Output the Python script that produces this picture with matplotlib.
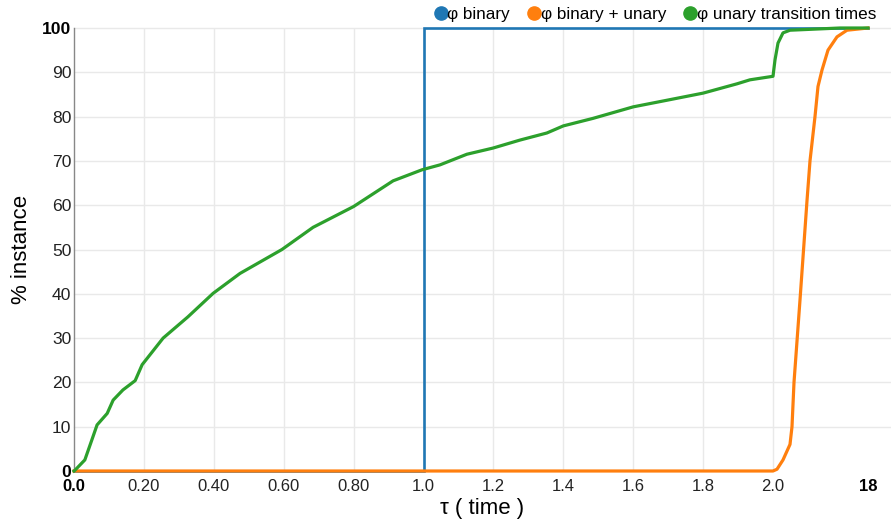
import numpy as np
import matplotlib
matplotlib.use("Agg")
import matplotlib.pyplot as plt
from matplotlib.lines import Line2D

plt.rcParams['font.family'] = ['Liberation Sans', 'DejaVu Sans']

# ---- data ----
series_names = ["φ binary", "φ binary + unary", "φ unary transition times"]
colors = ["#1f77b4", "#ff7f0e", "#2ca02c"]

binary_x = [0.0, 1.0, 1.0, 18.0]
binary_y = [0, 0, 100, 100]

bin_unary_x = [0.0, 2.0, 2.673, 3.684, 4.863, 5.200, 5.537, 6.547, 7.726, 8.231,
               9.073, 9.579, 10.252, 11.263, 12.779, 14.463, 18.0]
bin_unary_y = [0, 0, 0.4, 2.5, 6, 10, 20, 38.6, 61, 70,
               80, 86.8, 90.5, 95, 98, 99.5, 100]

unary_x = [0.0, 0.003, 0.031, 0.051, 0.066, 0.095, 0.112, 0.140, 0.175, 0.195,
           0.255, 0.326, 0.398, 0.475, 0.595, 0.684, 0.80, 0.913, 0.996,
           1.047, 1.124, 1.199, 1.276, 1.353, 1.40, 1.485, 1.60, 1.697, 1.80,
           1.897, 1.934, 2.0, 2.337, 2.842, 3.684, 4.863, 13.284, 18.0]
unary_y = [0, 0.2, 2.5, 7, 10.4, 13, 16, 18.3, 20.4, 24,
           30, 34.8, 40.1, 44.6, 50, 55, 59.7, 65.5, 68,
           69.1, 71.5, 72.9, 74.7, 76.3, 77.9, 79.6, 82.2, 83.7, 85.3,
           87.4, 88.3, 89.1, 92.8, 96.6, 98.9, 99.5, 100, 100]

x_ticks = [0.0, 0.2, 0.4, 0.6, 0.8, 1.0, 1.2, 1.4, 1.6, 1.8, 2.0, 18.0]
x_tick_labels = ["0.0", "0.20", "0.40", "0.60", "0.80", "1.0", "1.2", "1.4", "1.6", "1.8", "2.0", "18"]
y_ticks = [0, 10, 20, 30, 40, 50, 60, 70, 80, 90, 100]
y_tick_labels = [str(v) for v in y_ticks]

# ---- piecewise-linear x scale: [0,2] linear, [2,18] compressed ----
BREAK = 2.0
C = 0.2718 / 16.0

def fwd(x):
    x = np.asarray(x, dtype=float)
    return np.where(x <= BREAK, x, BREAK + (x - BREAK) * C)

def inv(u):
    u = np.asarray(u, dtype=float)
    return np.where(u <= BREAK, u, BREAK + (u - BREAK) / C)

W, H = 891, 527
fig = plt.figure(figsize=(W / 100, H / 100), dpi=100)
left_px, right_px, top_px, bot_px = 74, 891, 28, 471
ax = fig.add_axes([left_px / W, 1 - bot_px / H, (right_px - left_px) / W, (bot_px - top_px) / H])
ax.set_xscale('function', functions=(fwd, inv))

u_right = (right_px - left_px) / 349.5
ax.set_xlim(0, float(inv(u_right)))
ax.set_ylim(0, 100)

# grid
grid_c = "#e9e9e9"
for v in y_ticks[1:]:
    ax.axhline(v, color=grid_c, lw=1, zorder=0, clip_on=False)
for v in x_ticks[1:-1]:
    ax.axvline(v, color=grid_c, lw=1, zorder=0)

lw = 2.3
ax.plot(binary_x, binary_y, color=colors[0], lw=1.9, zorder=3, clip_on=False, solid_joinstyle='miter')
ax.plot(bin_unary_x, bin_unary_y, color=colors[1], lw=lw, zorder=4, clip_on=False)
ax.plot(unary_x, unary_y, color=colors[2], lw=lw, zorder=5, clip_on=False)

for s in ['top', 'right', 'bottom']:
    ax.spines[s].set_visible(False)
ax.spines['left'].set_color('#888888')
ax.spines['left'].set_linewidth(1)

ax.set_xticks(x_ticks)
ax.set_xticklabels(x_tick_labels)
ax.set_yticks(y_ticks)
ax.set_yticklabels(y_tick_labels)
ax.tick_params(axis='both', length=0, colors='#222222')
ax.tick_params(axis='x', pad=5.5, labelsize=12)
ax.tick_params(axis='y', pad=2, labelsize=12.6)
for lab in (ax.get_xticklabels()[0], ax.get_xticklabels()[-1],
            ax.get_yticklabels()[0], ax.get_yticklabels()[-1]):
    lab.set_fontweight('bold')
    lab.set_color('black')

ax.set_xlabel("τ ( time )", fontsize=16, labelpad=3)
ax.set_ylabel("% instance", fontsize=16, labelpad=7)

handles = [Line2D([], [], marker='o', linestyle='None', color=c, markersize=9.5) for c in colors]
fig.legend(handles, series_names, loc='upper right', bbox_to_anchor=(880 / W, 1 - 4 / H),
           ncol=3, frameon=False, fontsize=12.3, handletextpad=-0.2,
           columnspacing=0.8, handlelength=1.2, borderaxespad=0.05, borderpad=0.15)

fig.savefig("out.png", dpi=100)
